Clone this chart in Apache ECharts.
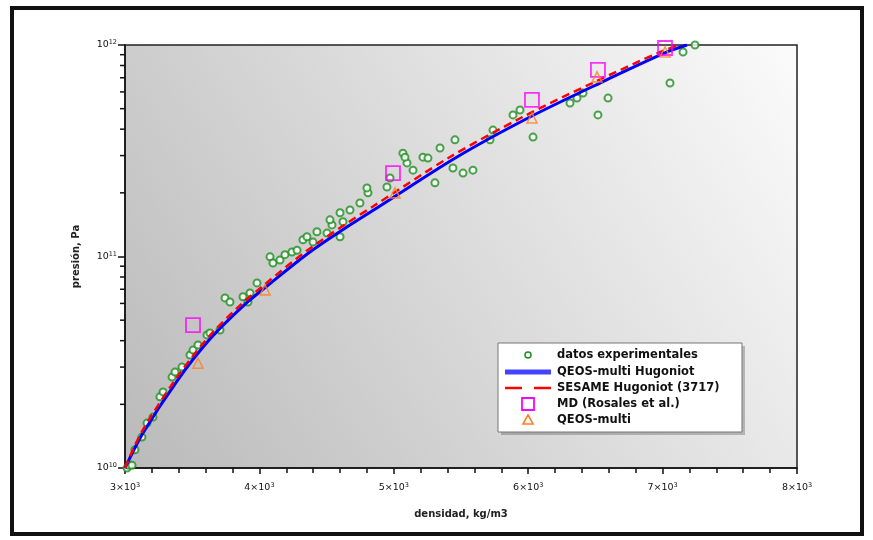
<!DOCTYPE html>
<html>
<head>
<meta charset="utf-8">
<script src="https://cdn.jsdelivr.net/npm/echarts@6/dist/echarts.min.js"></script>
<style>
  html, body { margin: 0; padding: 0; background: #ffffff; }
  #chart { width: 873px; height: 540px; }
</style>
</head>
<body>
<div id="chart"></div>
<script>
// Experimental Hugoniot points: density (kg/m3) and pressure (Pa)
const expRho = [3015, 3030, 3052, 3074, 3126, 3164, 3208, 3260, 3283, 3350, 3372, 3424, 3484, 3506, 3543,
  3610, 3632, 3707, 3744, 3781, 3878, 3915, 3930, 3982, 4079, 4101, 4153, 4190, 4242, 4280, 4324, 4354,
  4399, 4428, 4503, 4540, 4600, 4622, 4525, 4600, 4674, 4748, 4808, 4800, 4949, 4972, 5068, 5098, 5143,
  5083, 5217, 5254, 5306, 5344, 5455, 5440, 5515, 5589, 5716, 5738, 5887, 5939, 6036, 6311, 6363, 6408,
  6519, 6594, 7055, 7152, 7241];
const expP = [1.0e10, 1.03e10, 1.03e10, 1.22e10, 1.40e10, 1.63e10, 1.74e10, 2.17e10, 2.29e10, 2.69e10,
  2.84e10, 3.0e10, 3.42e10, 3.61e10, 3.82e10, 4.26e10, 4.35e10, 4.49e10, 6.37e10, 6.09e10, 6.45e10,
  6.09e10, 6.72e10, 7.50e10, 9.96e10, 9.32e10, 9.62e10, 1.02e11, 1.05e11, 1.07e11, 1.20e11, 1.24e11,
  1.17e11, 1.31e11, 1.29e11, 1.41e11, 1.24e11, 1.46e11, 1.49e11, 1.61e11, 1.66e11, 1.79e11, 2.0e11,
  2.11e11, 2.13e11, 2.35e11, 3.08e11, 2.77e11, 2.56e11, 2.95e11, 2.95e11, 2.92e11, 2.23e11, 3.26e11,
  3.56e11, 2.62e11, 2.48e11, 2.56e11, 3.56e11, 3.96e11, 4.67e11, 4.93e11, 3.67e11, 5.32e11, 5.61e11,
  5.93e11, 4.67e11, 5.61e11, 6.61e11, 9.27e11, 1.0e12];

// Hugoniot curves (shared pressure grid)
const curveP = [1.0e10, 1.464e10, 2.578e10, 4.07e10, 5.83e10, 7.25e10, 1.05e11, 1.41e11, 1.733e11,
  2.954e11, 4.566e11, 6.61e11, 9.27e11, 1.0e12];
const qeosRho = [3000, 3134, 3387, 3632, 3878, 4057, 4376, 4674, 4897, 5470, 6013, 6534, 7033, 7182];
const sesameRho = [3000, 3120, 3368, 3608, 3850, 4025, 4340, 4632, 4850, 5418, 5958, 6478, 6982, 7130];

// Molecular dynamics points
const mdRho = [3506, 4994, 6028, 6519, 7018];
const mdP = [4.74e10, 2.48e11, 5.5e11, 7.62e11, 9.68e11];

// QEOS-multi points
const qmRho = [3543, 4042, 5009, 6028, 6512, 7018];
const qmP = [3.13e10, 6.95e10, 2.0e11, 4.52e11, 7.07e11, 9.27e11];

// Axis ranges
const xMin = 3000, xMax = 8000, xStep = 1000;
const yMin = 1e10, yMax = 1e12;

const names = ['datos experimentales', 'QEOS-multi Hugoniot', 'SESAME Hugoniot (3717)',
  'MD (Rosales et al.)', 'QEOS-multi'];

const C_EXP = '#1f8f1f', C_QEOS = '#0000ff', C_SES = '#ff0000', C_MD = '#ff00ff', C_QM = '#ff7f27';

const zip = (a, b) => a.map((v, i) => [v, b[i]]);

const FONT = '"DejaVu Sans", sans-serif';

const chart = echarts.init(document.getElementById('chart'), null, { renderer: 'canvas' });

// Outer frame around the figure
const frame = {
  id: 'frame', type: 'rect', z: 100, silent: true,
  shape: { x: 12, y: 8, width: 850, height: 526 },
  style: { fill: 'none', stroke: '#111', lineWidth: 4 }
};

// Legend box drawn as a graphic group
const LX = 498, LY = 343, LW = 244, LH = 89;
const rowY = [355, 372, 388, 404, 420];
const symX = 528, textX = 557;
const legendFont = 'bold 11.5px "DejaVu Sans", sans-serif';
const legendChildren = [
  { type: 'rect', shape: { x: 3, y: 3, width: LW, height: LH }, style: { fill: 'rgba(0,0,0,0.22)' } },
  { type: 'rect', shape: { x: 0, y: 0, width: LW, height: LH }, style: { fill: '#ffffff', stroke: '#777', lineWidth: 1 } },
  // datos experimentales
  { type: 'circle', shape: { cx: symX - LX, cy: rowY[0] - LY, r: 3 }, style: { fill: '#fff', stroke: C_EXP, lineWidth: 1.5 } },
  // QEOS-multi Hugoniot
  { type: 'line', shape: { x1: 505 - LX, y1: rowY[1] - LY, x2: 551 - LX, y2: rowY[1] - LY }, style: { stroke: '#4444ff', lineWidth: 5 } },
  // SESAME Hugoniot
  { type: 'line', shape: { x1: 505 - LX, y1: rowY[2] - LY, x2: 522 - LX, y2: rowY[2] - LY }, style: { stroke: C_SES, lineWidth: 2.5 } },
  { type: 'line', shape: { x1: 534 - LX, y1: rowY[2] - LY, x2: 551 - LX, y2: rowY[2] - LY }, style: { stroke: C_SES, lineWidth: 2.5 } },
  // MD
  { type: 'rect', shape: { x: symX - 6 - LX, y: rowY[3] - 6 - LY, width: 12, height: 12 }, style: { fill: 'none', stroke: C_MD, lineWidth: 1.8 } },
  // QEOS-multi points
  { type: 'polygon', shape: { points: [[symX - LX, rowY[4] - 5 - LY], [symX + 5 - LX, rowY[4] + 4 - LY], [symX - 5 - LX, rowY[4] + 4 - LY]] }, style: { fill: 'none', stroke: C_QM, lineWidth: 1.6 } }
];
names.forEach((n, i) => {
  legendChildren.push({
    type: 'text', x: textX - LX, y: rowY[i] - LY,
    style: { text: n, font: legendFont, fill: '#111', textVerticalAlign: 'middle', verticalAlign: 'middle' }
  });
});
const legendGroup = { id: 'legendBox', type: 'group', x: LX, y: LY, z: 110, silent: true, children: legendChildren };

chart.setOption({
  animation: false,
  backgroundColor: '#ffffff',
  grid: {
    left: 125, top: 45, width: 672, height: 423,
    show: true,
    backgroundColor: new echarts.graphic.LinearGradient(0, 1, 1, 0, [
      { offset: 0, color: '#bababa' },
      { offset: 1, color: '#fbfbfb' }
    ]),
    borderColor: '#222', borderWidth: 1.5
  },
  xAxis: {
    type: 'value', min: xMin, max: xMax, interval: xStep,
    name: 'densidad, kg/m3', nameLocation: 'middle', nameGap: 41,
    nameTextStyle: { fontFamily: FONT, fontSize: 10, fontWeight: 'bold', color: '#222' },
    axisLine: { show: true, lineStyle: { color: '#111', width: 1.5 } },
    axisTick: { show: true, inside: false, length: 6, lineStyle: { color: '#111', width: 1.5 } },
    minorTick: { show: true, splitNumber: 5, length: 5, lineStyle: { color: '#111', width: 1.5 } },
    splitLine: { show: false },
    axisLabel: {
      margin: 14, color: '#111', fontFamily: FONT, fontSize: 9.5,
      formatter: v => (v / 1000) + '×10{s|3}',
      rich: { s: { fontSize: 6.5, verticalAlign: 'top', lineHeight: 12, fontFamily: FONT, color: '#111' } }
    }
  },
  yAxis: {
    type: 'log', logBase: 10, min: yMin, max: yMax,
    name: 'presión, Pa', nameLocation: 'middle', nameGap: 44, nameRotate: 90,
    nameTextStyle: { fontFamily: FONT, fontSize: 10, fontWeight: 'bold', color: '#222' },
    axisLine: { show: true, lineStyle: { color: '#111', width: 1.5 } },
    axisTick: { show: true, inside: false, length: 7, lineStyle: { color: '#111', width: 1.5 } },
    splitLine: { show: false },
    axisLabel: {
      margin: 8, color: '#111', fontFamily: FONT, fontSize: 9.5,
      formatter: v => '10{s|' + Math.round(Math.log10(v)) + '}',
      rich: { s: { fontSize: 6.5, verticalAlign: 'top', lineHeight: 12, fontFamily: FONT, color: '#111' } }
    }
  },
  series: [
    {
      name: names[0], type: 'scatter', data: zip(expRho, expP),
      symbol: 'emptyCircle', symbolSize: 7,
      itemStyle: { color: C_EXP, borderWidth: 1.3 }, z: 2
    },
    {
      name: names[1], type: 'line', data: zip(qeosRho, curveP),
      symbol: 'none', showSymbol: false, smooth: 0.3,
      lineStyle: { color: C_QEOS, width: 3 }, z: 3
    },
    {
      name: names[2], type: 'line', data: zip(sesameRho, curveP),
      symbol: 'none', showSymbol: false, smooth: 0.3,
      lineStyle: { color: C_SES, width: 2.5, type: [8, 5] }, z: 4
    },
    {
      name: names[3], type: 'scatter', data: zip(mdRho, mdP),
      symbol: 'rect', symbolSize: 14,
      itemStyle: { color: 'rgba(0,0,0,0)', borderColor: C_MD, borderWidth: 1.8 }, z: 5
    },
    {
      name: names[4], type: 'scatter', data: zip(qmRho, qmP),
      symbol: 'triangle', symbolSize: 10,
      itemStyle: { color: 'rgba(0,0,0,0)', borderColor: C_QM, borderWidth: 1.6 }, z: 6
    }
  ],
  graphic: [frame, legendGroup]
});

// Logarithmic minor ticks on the pressure axis (2..9 per decade)
const minor = [];
const x0 = chart.convertToPixel({ xAxisIndex: 0 }, xMin);
for (let d = 10; d < 12; d++) {
  for (let m = 2; m <= 9; m++) {
    const y = chart.convertToPixel({ yAxisIndex: 0 }, m * Math.pow(10, d));
    minor.push({
      type: 'line', silent: true, z: 50,
      shape: { x1: x0 - 5, y1: y, x2: x0, y2: y },
      style: { stroke: '#111', lineWidth: 1.5 }
    });
  }
}
chart.setOption({ graphic: [frame, legendGroup].concat(minor) });
</script>
</body>
</html>
